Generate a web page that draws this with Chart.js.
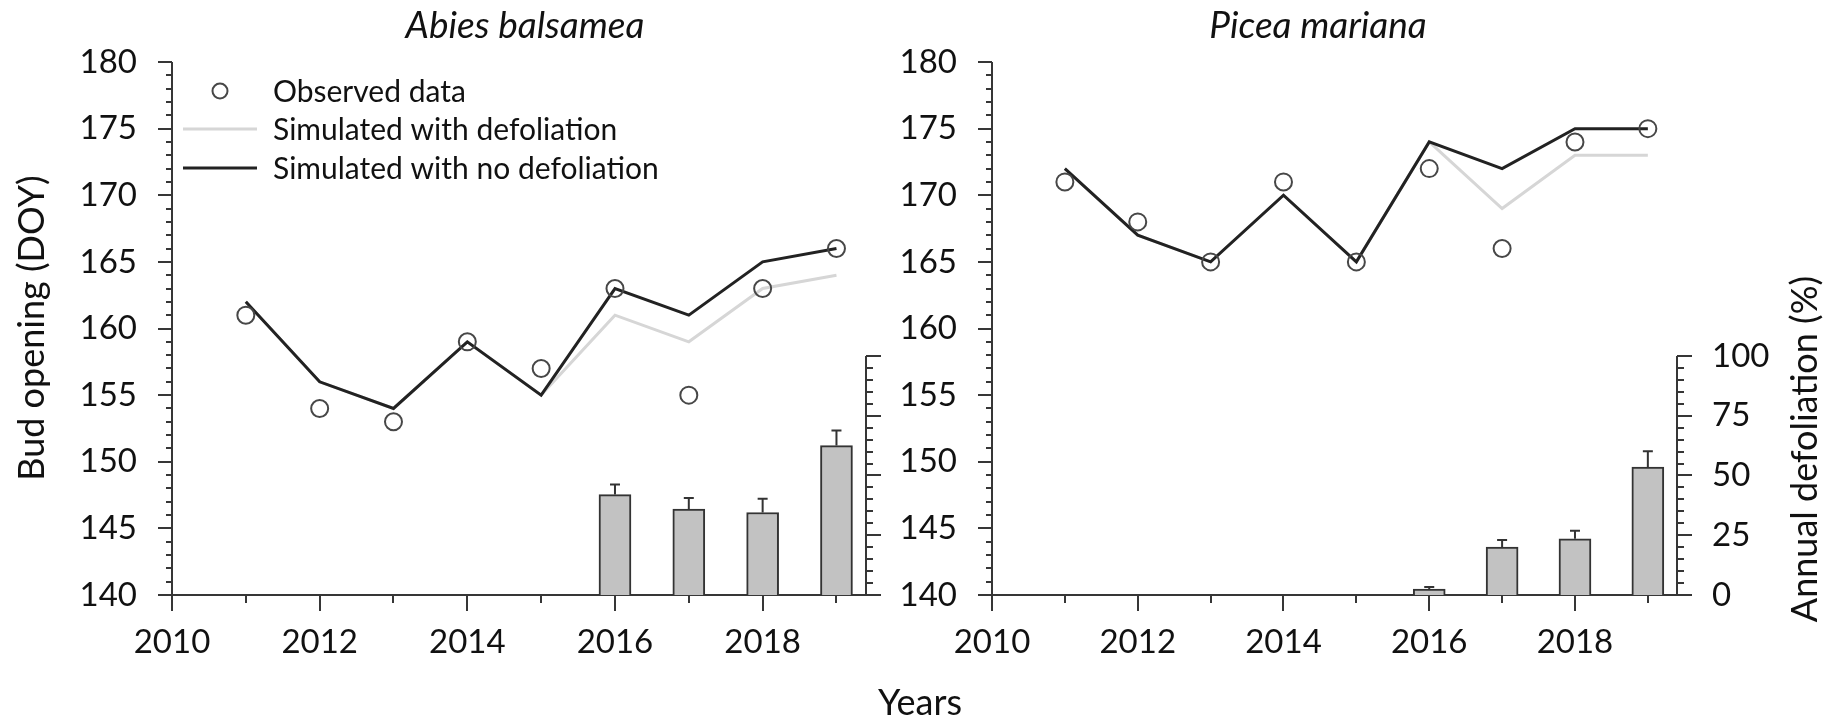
<!DOCTYPE html>
<html>
<head>
<meta charset="utf-8">
<title>Bud opening and defoliation</title>
<script src="https://cdn.jsdelivr.net/npm/chart.js@4.4.1/dist/chart.umd.min.js"></script>
<style>
  html, body { margin: 0; padding: 0; background: #ffffff; }
  #wrap { position: relative; width: 1833px; height: 723px; }
  #wrap canvas { position: absolute; left: 0; top: 0; }
</style>
</head>
<body>
<div id="wrap">
  <canvas id="abies" width="1833" height="723"></canvas>
  <canvas id="picea" width="1833" height="723"></canvas>
</div>
<script>
// ---- data ----
const years = [2011, 2012, 2013, 2014, 2015, 2016, 2017, 2018, 2019];
const defolYears = [2016, 2017, 2018, 2019];

const abiesObserved   = [161, 154, 153, 159, 157, 163, 155, 163, 166];
const abiesSimDefol   = [162, 156, 154, 159, 155, 161, 159, 163, 164];
const abiesSimNoDefol = [162, 156, 154, 159, 155, 163, 161, 165, 166];
const abiesDefol      = [42, 36, 34.5, 62.5];
const abiesDefolErr   = [4.2, 4.6, 5.8, 6.3];

const piceaObserved   = [171, 168, 165, 171, 165, 172, 166, 174, 175];
const piceaSimDefol   = [172, 167, 165, 170, 165, 174, 169, 173, 173];
const piceaSimNoDefol = [172, 167, 165, 170, 165, 174, 172, 175, 175];
const piceaDefol      = [2.5, 20, 23.5, 53.5];
const piceaDefolErr   = [0.8, 3, 3.4, 6.6];

const yearTicks  = [2010, 2012, 2014, 2016, 2018];
const doyTicks   = [140, 145, 150, 155, 160, 165, 170, 175, 180];
const defolTicks = [0, 25, 50, 75, 100];

const legendLabels = ['Observed data', 'Simulated with defoliation', 'Simulated with no defoliation'];

// ---- styling ----
const FONT = 'Lato';
const TEXT = '#111111';
const AXIS = '#363636';
const GREY_LINE = '#d6d6d6';
const DARK_LINE = '#222222';
const MARKER = '#474747';
const BAR_FILL = '#c2c2c2';
const X_MAX = 2019.4;
// defoliation axis stretched so that 100 % sits at the 158 DOY level
const DEFOL_MAX = 223;

const pts = (xs, ys) => xs.map((x, i) => ({ x: x, y: ys[i] }));

function datasets(obs, simD, simN, defol) {
  return [
    { type: 'line', data: pts(years, obs), showLine: false, pointRadius: 8.5,
      pointBorderWidth: 2, pointBorderColor: MARKER, pointBackgroundColor: 'rgba(0,0,0,0)',
      yAxisID: 'y', order: 1 },
    { type: 'line', data: pts(years, simN), borderColor: DARK_LINE, borderWidth: 3,
      pointRadius: 0, tension: 0, yAxisID: 'y', order: 2 },
    { type: 'line', data: pts(years, simD), borderColor: GREY_LINE, borderWidth: 3,
      pointRadius: 0, tension: 0, yAxisID: 'y', order: 3 },
    { type: 'bar', data: pts(defolYears, defol), backgroundColor: BAR_FILL,
      borderColor: '#333333', borderWidth: 2, barThickness: 32, yAxisID: 'y2', order: 4 }
  ];
}

// draws the axis lines with major and minor tick marks
const axisPainter = {
  id: 'axisPainter',
  beforeDatasetsDraw(chart) {
    const { ctx, chartArea: a, scales } = chart;
    const x = scales.x, y = scales.y, y2 = scales.y2;
    ctx.save();
    ctx.strokeStyle = AXIS;
    ctx.lineWidth = 2;
    ctx.beginPath();
    ctx.moveTo(a.left, a.top); ctx.lineTo(a.left, a.bottom);
    ctx.moveTo(a.left - 14, a.bottom); ctx.lineTo(a.right + 15, a.bottom);
    for (let v = y.min; v <= y.max; v++) {
      const py = Math.round(y.getPixelForValue(v));
      const len = v % 5 === 0 ? 14 : 6;
      ctx.moveTo(a.left - len, py); ctx.lineTo(a.left, py);
    }
    for (let v = Math.ceil(x.min); v <= x.max; v++) {
      const px = Math.round(x.getPixelForValue(v));
      const len = v % 2 === 0 ? 16 : 8;
      ctx.moveTo(px, a.bottom); ctx.lineTo(px, a.bottom + len);
    }
    const top = Math.round(y2.getPixelForValue(100));
    ctx.moveTo(a.right, top); ctx.lineTo(a.right, a.bottom);
    for (let v = 0; v <= 100; v += 5) {
      const py = Math.round(y2.getPixelForValue(v));
      const len = v % 25 === 0 ? 15 : 7;
      ctx.moveTo(a.right, py); ctx.lineTo(a.right + len, py);
    }
    ctx.stroke();
    ctx.restore();
  }
};

// one-sided error bars above the defoliation bars
const errorBars = {
  id: 'errorBars',
  afterDatasetsDraw(chart, args, opts) {
    const { ctx, scales } = chart;
    const meta = chart.getDatasetMeta(3);
    ctx.save();
    ctx.strokeStyle = '#333333';
    ctx.lineWidth = 2;
    ctx.beginPath();
    meta.data.forEach((bar, i) => {
      const v = chart.data.datasets[3].data[i].y;
      const yTop = scales.y2.getPixelForValue(v);
      const yErr = scales.y2.getPixelForValue(v + opts.errors[i]);
      ctx.moveTo(bar.x, yTop); ctx.lineTo(bar.x, yErr);
      ctx.moveTo(bar.x - 5, yErr); ctx.lineTo(bar.x + 5, yErr);
    });
    ctx.stroke();
    ctx.restore();
  }
};

// panel titles, axis titles and legend
const annotations = {
  id: 'annotations',
  afterDraw(chart, args, opts) {
    const { ctx } = chart;
    ctx.save();
    ctx.fillStyle = TEXT;
    ctx.textAlign = 'center';
    ctx.textBaseline = 'middle';
    ctx.font = 'italic 37px ' + FONT;
    ctx.fillText(opts.title, opts.titleX, 26);
    ctx.font = '36px ' + FONT;
    (opts.rotated || []).forEach(t => {
      ctx.save();
      ctx.translate(t.x, t.y);
      ctx.rotate(-Math.PI / 2);
      ctx.fillText(t.text, 0, 0);
      ctx.restore();
    });
    (opts.plain || []).forEach(t => ctx.fillText(t.text, t.x, t.y));
    if (opts.legend) {
      const rows = [91, 129, 168];
      ctx.strokeStyle = MARKER; ctx.lineWidth = 2;
      ctx.beginPath(); ctx.arc(220, rows[0], 7.5, 0, Math.PI * 2); ctx.stroke();
      ctx.lineWidth = 3;
      ctx.strokeStyle = GREY_LINE;
      ctx.beginPath(); ctx.moveTo(183, rows[1]); ctx.lineTo(257, rows[1]); ctx.stroke();
      ctx.strokeStyle = DARK_LINE;
      ctx.beginPath(); ctx.moveTo(183, rows[2]); ctx.lineTo(257, rows[2]); ctx.stroke();
      ctx.textAlign = 'left';
      ctx.font = '30px ' + FONT;
      legendLabels.forEach((s, i) => ctx.fillText(s, 273, rows[i] + 1));
    }
    ctx.restore();
  }
};

const tickFont = { family: FONT, size: 33 };

function makeScales(yWidth, y2Width, showRight) {
  return {
    x: {
      type: 'linear', min: 2010, max: X_MAX, offset: false,
      grid: { display: false, drawTicks: false }, border: { display: false },
      afterBuildTicks: s => { s.ticks = yearTicks.map(v => ({ value: v })); },
      ticks: { padding: 28, font: tickFont, color: TEXT, maxRotation: 0, autoSkip: false,
               callback: v => String(v) },
      afterFit: s => { s.height = 128; }
    },
    y: {
      position: 'left', min: 140, max: 180,
      grid: { display: false, drawTicks: false }, border: { display: false },
      afterBuildTicks: s => { s.ticks = doyTicks.map(v => ({ value: v })); },
      ticks: { padding: 35, font: tickFont, color: TEXT, callback: v => String(v) },
      afterFit: s => { s.width = yWidth; }
    },
    y2: {
      position: 'right', min: 0, max: DEFOL_MAX,
      grid: { display: false, drawTicks: false }, border: { display: false },
      afterBuildTicks: s => { s.ticks = defolTicks.map(v => ({ value: v })); },
      ticks: { display: showRight, padding: 35, font: tickFont, color: TEXT,
               callback: v => String(v) },
      afterFit: s => { s.width = y2Width; }
    }
  };
}

function build() {
  new Chart(document.getElementById('abies'), {
    type: 'bar',
    data: { datasets: datasets(abiesObserved, abiesSimDefol, abiesSimNoDefol, abiesDefol) },
    options: {
      responsive: false, animation: false, devicePixelRatio: 1,
      layout: { padding: { left: 0, top: 62, right: 967, bottom: 0 } },
      scales: makeScales(172, 0, false),
      plugins: {
        legend: { display: false }, tooltip: { enabled: false },
        errorBars: { errors: abiesDefolErr },
        annotations: {
          title: 'Abies balsamea', titleX: 525, legend: true,
          rotated: [{ text: 'Bud opening (DOY)', x: 32, y: 328 }],
          plain: [{ text: 'Years', x: 920, y: 703 }]
        }
      }
    },
    plugins: [axisPainter, errorBars, annotations]
  });

  new Chart(document.getElementById('picea'), {
    type: 'bar',
    data: { datasets: datasets(piceaObserved, piceaSimDefol, piceaSimNoDefol, piceaDefol) },
    options: {
      responsive: false, animation: false, devicePixelRatio: 1,
      layout: { padding: { left: 0, top: 62, right: 0, bottom: 0 } },
      scales: makeScales(992, 156, true),
      plugins: {
        legend: { display: false }, tooltip: { enabled: false },
        errorBars: { errors: piceaDefolErr },
        annotations: {
          title: 'Picea mariana', titleX: 1318, legend: false,
          rotated: [{ text: 'Annual defoliation (%)', x: 1805, y: 449 }]
        }
      }
    },
    plugins: [axisPainter, errorBars, annotations]
  });
}

Promise.all([
  document.fonts.load('33px Lato'),
  document.fonts.load('italic 37px Lato')
]).then(build, build);
</script>
</body>
</html>
